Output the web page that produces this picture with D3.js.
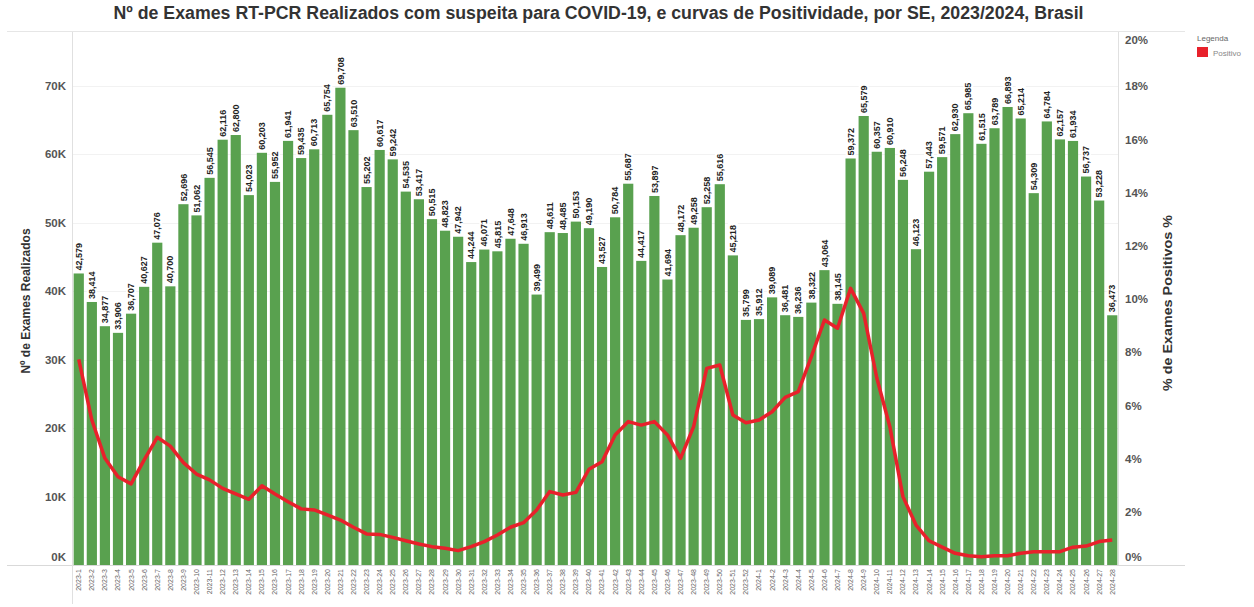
<!DOCTYPE html>
<html>
<head>
<meta charset="utf-8">
<script src="https://cdn.jsdelivr.net/npm/d3@7"></script>
<style>
  body { margin: 0; background: #fff; }
  svg { display: block; font-family: "Liberation Sans", Arial, sans-serif; }
</style>
</head>
<body>
<svg id="chart" width="1254" height="607"></svg>
<script>
// semanas epidemiologicas
const weeks2023 = d3.range(1, 53).map(w => '2023-' + w);
const weeks2024 = d3.range(1, 29).map(w => '2024-' + w);
const weeks = weeks2023.concat(weeks2024);

// nº de exames realizados
const exames = [
  42579, 38414, 34877, 33906, 36707, 40627, 47076, 40700, 52696, 51062,
  56545, 62116, 62800, 54023, 60203, 55952, 61941, 59435, 60713, 65754,
  69708, 63510, 55202, 60617, 59242, 54535, 53417, 50515, 48823, 47942,
  44244, 46071, 45815, 47648, 46913, 39499, 48611, 48485, 50153, 49190,
  43527, 50784, 55687, 44417, 53897, 41694, 48172, 49258, 52258, 55616,
  45218, 35799,
  35912, 39089, 36481, 36236, 38322, 43064, 38145, 59372, 65579, 60357,
  60910, 56248, 46123, 57443, 59571, 62930, 65985, 61515, 63789, 66893,
  65214, 54309, 64784, 62157, 61934, 56737, 53228, 36473
];

// % positivos
const positivos = [
  7.73, 5.45, 4.01, 3.32, 3.05, 3.95, 4.80, 4.47, 3.85, 3.42,
  3.20, 2.88, 2.67, 2.47, 2.98, 2.67, 2.38, 2.11, 2.07, 1.88,
  1.69, 1.42, 1.17, 1.15, 1.04, 0.91, 0.79, 0.69, 0.63, 0.54,
  0.69, 0.88, 1.13, 1.42, 1.59, 2.07, 2.76, 2.63, 2.73, 3.60,
  3.88, 4.89, 5.39, 5.26, 5.39, 4.89, 4.01, 5.20, 7.39, 7.52,
  5.64, 5.35,
  5.45, 5.76, 6.30, 6.52, 7.83, 9.21, 8.90, 10.40, 9.46, 7.04,
  5.20, 2.57, 1.50, 0.91, 0.67, 0.44, 0.35, 0.31, 0.35, 0.35,
  0.44, 0.50, 0.50, 0.50, 0.67, 0.71, 0.88, 0.94
];

const leftTicks = [0, 10000, 20000, 30000, 40000, 50000, 60000, 70000];
const rightTicks = [0, 2, 4, 6, 8, 10, 12, 14, 16, 18, 20];

const data = weeks.map((w, i) => ({ se: w, exames: exames[i], pos: positivos[i] }));

const svg = d3.select('#chart');
const pLeft = 73, pRight = 1118, pTop = 33, pBottom = 565;

const x = d3.scaleBand().domain(weeks).range([pLeft, pRight]).paddingInner(0.22).paddingOuter(0.05);
const y = d3.scaleLinear().domain([0, 77700]).range([pBottom, pTop]);
const y2 = d3.scaleLinear().domain([0, 20]).range([pBottom, pTop]);

// frame lines
svg.append('line').attr('x1', 7).attr('x2', 1185).attr('y1', pTop - 1.5).attr('y2', pTop - 1.5)
  .attr('stroke', '#e6e6e6');
svg.append('line').attr('x1', 7).attr('x2', 1185).attr('y1', pBottom + 0.5).attr('y2', pBottom + 0.5)
  .attr('stroke', '#d9d9d9');
svg.append('line').attr('x1', pLeft - 0.5).attr('x2', pLeft - 0.5).attr('y1', pTop - 1).attr('y2', 604)
  .attr('stroke', '#e0e0e0');
svg.append('line').attr('x1', pRight + 0.5).attr('x2', pRight + 0.5).attr('y1', pTop - 1).attr('y2', pBottom)
  .attr('stroke', '#e0e0e0');

// gridlines
svg.append('g').selectAll('line')
  .data(leftTicks.slice(1))
  .enter().append('line')
  .attr('x1', pLeft).attr('x2', pRight)
  .attr('y1', d => Math.round(y(d)) + 0.5).attr('y2', d => Math.round(y(d)) + 0.5)
  .attr('stroke', '#f2f2f2');

// left axis
const yAxis = svg.append('g')
  .attr('transform', `translate(${pLeft},0)`)
  .call(d3.axisLeft(y).tickValues(leftTicks).tickSize(0).tickPadding(7)
    .tickFormat(d => (d / 1000) + 'K'));
yAxis.select('.domain').remove();
yAxis.selectAll('text')
  .attr('font-size', 11.5).attr('font-weight', 'bold').attr('fill', '#555')
  .attr('font-family', '"Liberation Sans", Arial, sans-serif')
  .attr('dy', d => d === 0 ? '-0.4em' : '0.32em');

// right axis
const y2Axis = svg.append('g')
  .attr('transform', `translate(${pRight},0)`)
  .call(d3.axisRight(y2).tickValues(rightTicks).tickSize(0).tickPadding(7)
    .tickFormat(d => d + '%'));
y2Axis.select('.domain').remove();
y2Axis.selectAll('text')
  .attr('font-size', 11.5).attr('font-weight', 'bold').attr('fill', '#555')
  .attr('font-family', '"Liberation Sans", Arial, sans-serif')
  .attr('dy', d => d === 0 ? '-0.4em' : (d === 20 ? '0.9em' : '0.32em'));

// x axis labels
const xAxis = svg.append('g')
  .attr('transform', `translate(0,${pBottom})`)
  .call(d3.axisBottom(x).tickSize(0).tickPadding(0));
xAxis.select('.domain').remove();
xAxis.selectAll('text')
  .attr('font-size', 7).attr('fill', '#666')
  .attr('font-family', '"Liberation Sans", Arial, sans-serif')
  .attr('transform', 'rotate(-90)')
  .attr('text-anchor', 'end')
  .attr('x', -4).attr('y', 0).attr('dy', '0.35em');

// bars
svg.append('g').selectAll('rect')
  .data(data)
  .enter().append('rect')
  .attr('x', d => x(d.se))
  .attr('y', d => y(d.exames))
  .attr('width', x.bandwidth())
  .attr('height', d => pBottom - y(d.exames))
  .attr('fill', '#59a14f');

// positivity line
const line = d3.line()
  .x(d => x(d.se) + x.bandwidth() / 2)
  .y(d => y2(d.pos));
svg.append('path')
  .datum(data)
  .attr('d', line)
  .attr('fill', 'none')
  .attr('stroke', '#e8212b')
  .attr('stroke-width', 3.5)
  .attr('stroke-linejoin', 'round');

// bar labels
const fmt = d3.format(',');
const labels = svg.append('g').selectAll('g')
  .data(data)
  .enter().append('g')
  .attr('transform', d => `translate(${x(d.se) + x.bandwidth() / 2},${y(d.exames) - 2}) rotate(-90)`);
labels.append('rect')
  .attr('x', 0).attr('y', -5)
  .attr('width', 32).attr('height', 10)
  .attr('fill', '#fff');
labels.append('text')
  .text(d => fmt(d.exames))
  .attr('x', 1).attr('dy', '0.35em')
  .attr('font-size', 9).attr('font-weight', 'bold').attr('fill', '#222');

// title
svg.append('text')
  .attr('x', 598.5).attr('y', 19)
  .attr('text-anchor', 'middle')
  .attr('font-size', 17.5).attr('font-weight', 'bold').attr('fill', '#333')
  .attr('textLength', 970).attr('lengthAdjust', 'spacingAndGlyphs')
  .text('Nº de Exames RT-PCR Realizados com suspeita para COVID-19, e curvas de Positividade, por SE, 2023/2024, Brasil');

// axis titles
svg.append('text')
  .attr('transform', `translate(30,${(pTop + pBottom) / 2 + 2}) rotate(-90)`)
  .attr('text-anchor', 'middle')
  .attr('font-size', 12).attr('font-weight', 'bold').attr('fill', '#333')
  .text('Nº de Exames Realizados');
svg.append('text')
  .attr('transform', `translate(1172,${(pTop + pBottom) / 2 + 4}) rotate(-90)`)
  .attr('text-anchor', 'middle')
  .attr('font-size', 12.5).attr('font-weight', 'bold').attr('fill', '#333')
  .attr('textLength', 176).attr('lengthAdjust', 'spacingAndGlyphs')
  .text('% de Exames Positivos %');

// legend
svg.append('text').attr('x', 1197).attr('y', 41)
  .attr('font-size', 8).attr('fill', '#666').text('Legenda');
svg.append('rect').attr('x', 1197).attr('y', 47).attr('width', 11).attr('height', 10)
  .attr('fill', '#e8212b');
svg.append('text').attr('x', 1213).attr('y', 56)
  .attr('font-size', 8).attr('fill', '#888').text('Positivo');
</script>
</body>
</html>
